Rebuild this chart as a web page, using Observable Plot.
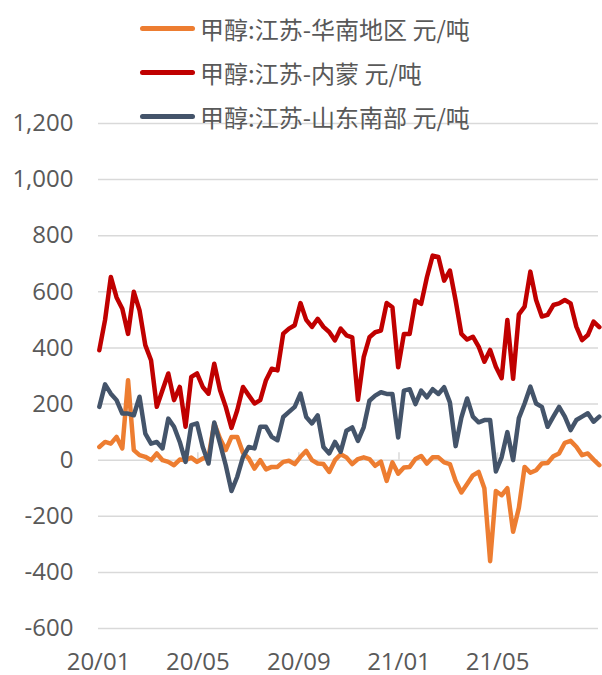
<!DOCTYPE html>
<html>
<head>
<meta charset="utf-8">
<script src="https://cdn.jsdelivr.net/npm/d3@7"></script>
<script src="https://cdn.jsdelivr.net/npm/@observablehq/plot@0.6"></script>
<style>
  html, body { margin: 0; padding: 0; background: #fff; }
  #wrap { position: relative; width: 602px; height: 675px; }
  #legend { position: absolute; left: 0; top: 0; width: 602px; height: 140px; pointer-events: none; }
  .row { position: absolute; left: 140px; height: 30px; display: flex; align-items: center;
         font-family: "Noto Sans CJK SC", "Noto Sans", sans-serif; font-size: 24px; color: #595959; white-space: nowrap; }
  .swatch { width: 55px; height: 5px; border-radius: 3px; margin-right: 5px; }
</style>
</head>
<body>
<div id="wrap"><div id="legend"></div></div>
<script>
// ---- data (weekly samples) ----
const seriesNames = ["甲醇:江苏-华南地区 元/吨", "甲醇:江苏-内蒙 元/吨", "甲醇:江苏-山东南部 元/吨"];
const seriesColors = ["#ED7D31", "#C00000", "#44546A"];
const startDate = "2020-01-02";
const endDomain = ["2020-01-01", "2021-09-01"];
const yTicks = [-600, -400, -200, 0, 200, 400, 600, 800, 1000, 1200];
const xTickDates = ["2020-01-01", "2020-05-01", "2020-09-01", "2021-01-01", "2021-05-01"];
const xTickLabels = ["20/01", "20/05", "20/09", "21/01", "21/05"];

const huanan = [47, 65, 59, 83, 42, 285, 36, 18, 12, 0, 24, 0, -6, -18, 2, 0, 9, -6, 6, 12,
  131, 77, 36, 83, 83, 26, 6, -30, 0, -33, -24, -24, -6, -2, -14, 12, 33, 0, -12, -14,
  -42, 0, 21, 10, -14, 4, 10, 4, -20, -5, -74, -8, -48, -26, -24, 4, 15, -12, 10, 10,
  -8, -14, -74, -115, -85, -54, -42, -100, -360, -110, -125, -100, -255, -170, -24, -45, -36, -12, -10, 14,
  24, 62, 69, 48, 18, 24, 2, -18];
const neimeng = [392, 500, 653, 580, 540, 450, 600, 534, 410, 356, 190, 250, 309, 214, 261, 119, 297, 309, 261, 237,
  344, 250, 190, 115, 178, 261, 231, 202, 214, 285, 326, 320, 451, 469, 481, 560, 500, 475, 504, 475,
  457, 427, 469, 445, 438, 215, 367, 438, 456, 462, 560, 545, 331, 450, 450, 569, 557, 652, 729, 724,
  640, 676, 569, 450, 430, 440, 405, 351, 393, 333, 292, 500, 290, 520, 547, 672, 571, 512, 518, 553,
  559, 571, 559, 476, 428, 446, 494, 474];
const shandong = [190, 270, 237, 214, 166, 166, 160, 226, 95, 59, 65, 42, 148, 119, 65, -6, 125, 131, 47, -12,
  134, 60, -18, -110, -59, 12, 47, 42, 119, 119, 83, 71, 154, 172, 190, 237, 154, 131, 160, 47,
  24, 65, 30, 105, 117, 69, 117, 212, 230, 242, 236, 236, 81, 248, 253, 200, 248, 224, 253, 236,
  260, 206, 50, 152, 220, 155, 135, 143, 143, -40, 10, 100, 0, 150, 202, 262, 202, 190, 119, 155,
  190, 155, 107, 143, 155, 167, 137, 155];

// ---- build table ----
const t0 = new Date(startDate + "T00:00:00Z");
const seriesValues = [huanan, neimeng, shandong];
const rows = [];
seriesValues.forEach((vals, s) => {
  vals.forEach((v, i) => {
    rows.push({ date: d3.utcDay.offset(t0, 7 * i), value: v, series: seriesNames[s] });
  });
});
const tickDates = xTickDates.map(d => new Date(d + "T00:00:00Z"));
const labelOf = new Map(tickDates.map((d, i) => [+d, xTickLabels[i]]));
const fmt = d3.format(",");

const chart = Plot.plot({
  width: 602,
  height: 675,
  marginLeft: 98,
  marginRight: 4,
  marginTop: 123,
  marginBottom: 47,
  style: { fontFamily: "'Open Sans', 'Noto Sans', sans-serif", fontSize: "24px", color: "#595959", background: "transparent", overflow: "visible" },
  x: {
    type: "utc",
    domain: endDomain.map(d => new Date(d + "T00:00:00Z")),
    ticks: tickDates,
    tickFormat: d => labelOf.get(+d),
    tickSize: 0,
    tickPadding: 24,
    label: null
  },
  y: {
    domain: [-600, 1200],
    ticks: yTicks,
    tickFormat: d => fmt(d).replace("\u2212", "-"),
    tickSize: 0,
    tickPadding: 25,
    label: null
  },
  color: { domain: seriesNames, range: seriesColors },
  marks: [
    Plot.gridY(yTicks, { stroke: "#D9D9D9", strokeOpacity: 1, strokeWidth: 1.5 }),
    Plot.ruleX(tickDates.slice(1), { x: d => d, y1: 0, y2: 26, stroke: "#D9D9D9", strokeWidth: 1.5 }),
    Plot.line(rows, { x: "date", y: "value", z: "series", stroke: "series", strokeWidth: 4.5, strokeLinejoin: "round", strokeLinecap: "round" })
  ]
});
document.getElementById("wrap").prepend(chart);

// ---- legend ----
const legendTops = [13, 57, 101];
const legend = document.getElementById("legend");
seriesNames.forEach((name, i) => {
  const row = document.createElement("div");
  row.className = "row";
  row.style.top = legendTops[i] + "px";
  const sw = document.createElement("div");
  sw.className = "swatch";
  sw.style.background = seriesColors[i];
  const tx = document.createElement("span");
  tx.textContent = name;
  row.appendChild(sw);
  row.appendChild(tx);
  legend.appendChild(row);
});
</script>
</body>
</html>
